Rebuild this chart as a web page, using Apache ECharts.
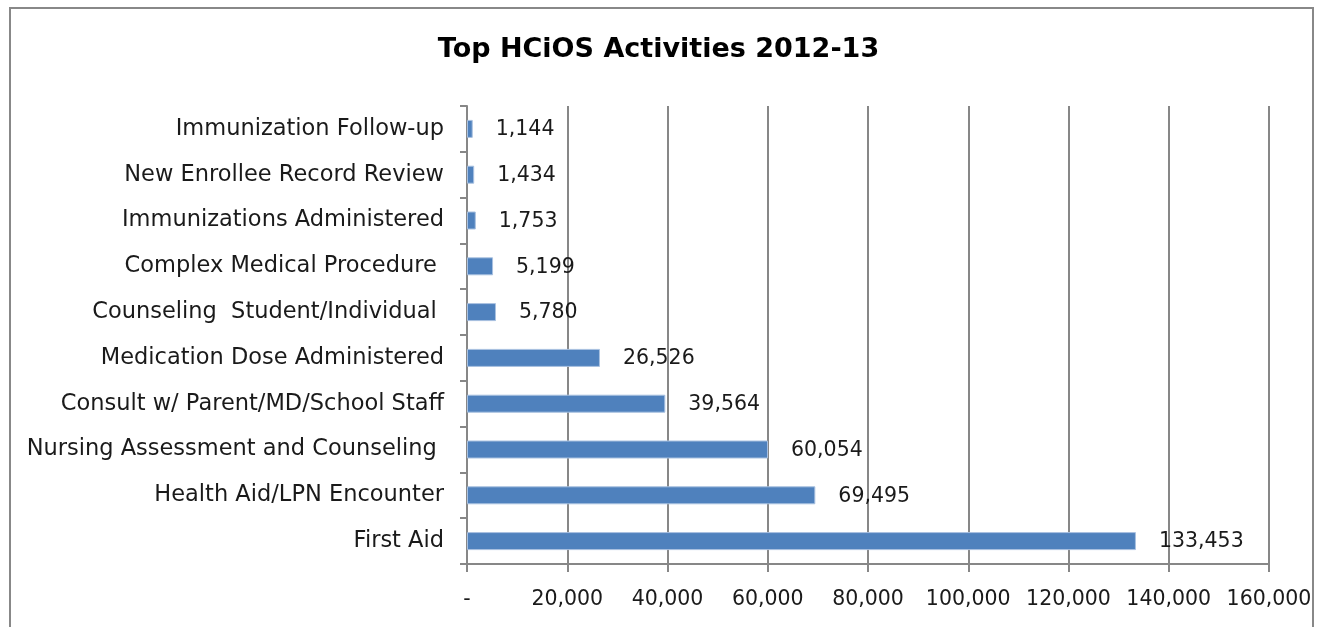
<!DOCTYPE html>
<html>
<head>
<meta charset="utf-8">
<script src="https://cdn.jsdelivr.net/npm/echarts@6/dist/echarts.min.js"></script>
<style>
  html, body { margin: 0; padding: 0; background: #fff; }
  #chart { width: 1317px; height: 627px; }
</style>
</head>
<body>
<div id="chart"></div>
<script>
// Activity categories, listed top to bottom as drawn
const categories = [
  'Immunization Follow-up',
  'New Enrollee Record Review',
  'Immunizations Administered',
  'Complex Medical Procedure ',
  'Counseling  Student/Individual ',
  'Medication Dose Administered',
  'Consult w/ Parent/MD/School Staff',
  'Nursing Assessment and Counseling ',
  'Health Aid/LPN Encounter',
  'First Aid'
];
const activityCounts = [1144, 1434, 1753, 5199, 5780, 26526, 39564, 60054, 69495, 133453];
const xTickValues = [0, 20000, 40000, 60000, 80000, 100000, 120000, 140000, 160000];

const fontFamily = '"DejaVu Sans", sans-serif';
const axisGray = '#878787';

const chart = echarts.init(document.getElementById('chart'), null, { renderer: 'canvas' });

function fmt(v) {
  if (v === 0) return '-';
  return v.toLocaleString('en-US');
}

chart.setOption({
  animation: false,
  backgroundColor: '#fff',
  title: {
    text: 'Top HCiOS Activities 2012-13',
    left: 'center',
    top: 31,
    textStyle: { fontFamily, fontSize: 27, fontWeight: 'bold', color: '#000' }
  },
  graphic: [{
    type: 'rect',
    shape: { x: 10, y: 8, width: 1303, height: 640 },
    style: { fill: 'none', stroke: '#888', lineWidth: 2 },
    silent: true
  }],
  grid: { left: 467, right: 48, top: 106, bottom: 63, containLabel: false },
  xAxis: {
    type: 'value',
    min: xTickValues[0],
    max: xTickValues[xTickValues.length - 1],
    interval: xTickValues[1] - xTickValues[0],
    axisLine: { show: true, lineStyle: { color: axisGray, width: 2 } },
    axisTick: { show: true, length: 8, lineStyle: { color: axisGray, width: 2 } },
    splitLine: { show: true, lineStyle: { color: axisGray, width: 2 } },
    axisLabel: {
      formatter: fmt,
      fontFamily, fontSize: 20.5, color: '#1a1a1a', margin: 25
    }
  },
  yAxis: {
    type: 'category',
    data: categories,
    inverse: true,
    axisLine: { show: true, lineStyle: { color: axisGray, width: 2 } },
    axisTick: { show: true, length: 7, alignWithLabel: false, lineStyle: { color: axisGray, width: 2 } },
    splitLine: { show: false },
    axisLabel: {
      fontFamily, fontSize: 22.5, color: '#1a1a1a', margin: 23
    }
  },
  series: [{
    type: 'bar',
    data: activityCounts,
    barWidth: 18,
    itemStyle: { color: '#4F81BD', borderColor: '#a9c1e0', borderWidth: 1 },
    label: {
      show: true,
      position: 'right',
      distance: 23,
      offset: [0, 1],
      formatter: p => fmt(p.value),
      fontFamily, fontSize: 20.5, color: '#1a1a1a'
    }
  }]
});
</script>
</body>
</html>
